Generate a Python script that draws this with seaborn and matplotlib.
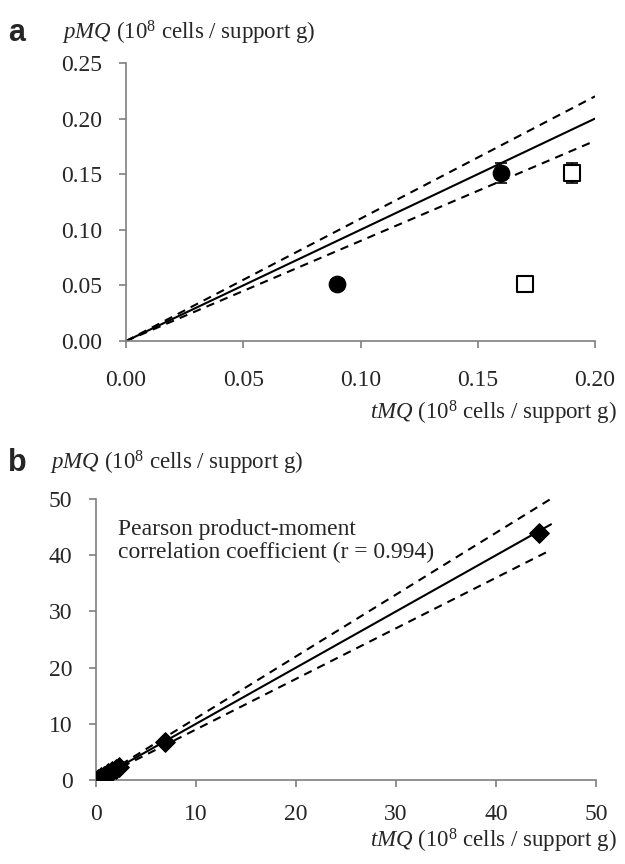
import numpy as np
import pandas as pd
import matplotlib
matplotlib.use("Agg")
import matplotlib.pyplot as plt
import seaborn as sns

sns.set_style("white")
plt.rcParams['font.family'] = ['Liberation Serif', 'DejaVu Serif']
plt.rcParams['mathtext.fontset'] = 'custom'
plt.rcParams['mathtext.rm'] = 'Liberation Serif'
plt.rcParams['mathtext.it'] = 'Liberation Serif:italic'

# panel a data
a_circle_x = [0.09, 0.16]
a_circle_y = [0.051, 0.151]
a_circle_err = [0.0, 0.009]
a_square_x = [0.17, 0.19]
a_square_y = [0.051, 0.151]
a_square_err = [0.0, 0.009]
a_line_x = [0.0, 0.20]
a_ticks_x = [0.00, 0.05, 0.10, 0.15, 0.20]
a_ticks_y = [0.00, 0.05, 0.10, 0.15, 0.20, 0.25]

# panel b data
b_x = [0.2, 0.5, 0.8, 1.2, 1.6, 2.0, 2.3, 6.9, 44.3]
b_y = [0.2, 0.5, 0.8, 1.2, 1.6, 2.0, 2.3, 6.8, 44.0]
b_line_x = [0.0, 45.5]
b_ticks = [0, 10, 20, 30, 40, 50]

# regression line (slope 1) and +/-10% bounds
slope_mid, slope_hi, slope_lo = 1.0, 1.1, 0.9

fig = plt.figure(figsize=(6.25, 8.64), dpi=100)
ax_a = fig.add_axes([0.2016, 0.6053, 0.7504, 0.3218])
ax_b = fig.add_axes([0.1536, 0.0972, 0.8000, 0.3252])

spine_col = '#7f7f7f'
ylab = r'$\mathit{pMQ}$ (10$^{8}$ cells / support g)'
xlab = r'$\mathit{tMQ}$ (10$^{8}$ cells / support g)'


def style_axes(ax, xpad):
    for s in ['top', 'right']:
        ax.spines[s].set_visible(False)
    for s in ['left', 'bottom']:
        ax.spines[s].set_color(spine_col)
        ax.spines[s].set_linewidth(1.2)
    ax.tick_params(direction='out', length=5, width=1.2, color=spine_col,
                   labelsize=17, left=True, bottom=True)
    ax.tick_params(axis='y', pad=12)
    ax.tick_params(axis='x', pad=xpad)


def draw_lines(ax, xs):
    xs = np.array(xs)
    df = pd.DataFrame({'x': xs, 'mid': xs * slope_mid, 'hi': xs * slope_hi, 'lo': xs * slope_lo})
    sns.lineplot(data=df, x='x', y='mid', ax=ax, color='black', lw=1.5)
    sns.lineplot(data=df, x='x', y='hi', ax=ax, color='black', lw=1.5, linestyle=(0, (4, 3)))
    sns.lineplot(data=df, x='x', y='lo', ax=ax, color='black', lw=1.5, linestyle=(0, (4, 3)))


# ---- panel a
draw_lines(ax_a, a_line_x)
ax_a.errorbar(a_circle_x, a_circle_y, yerr=a_circle_err, fmt='none', ecolor='black',
              elinewidth=1.2, capsize=4, capthick=1.2, zorder=3)
ax_a.errorbar(a_square_x, a_square_y, yerr=a_square_err, fmt='none', ecolor='black',
              elinewidth=1.2, capsize=4, capthick=1.2, zorder=3)
sns.scatterplot(x=a_circle_x, y=a_circle_y, ax=ax_a, marker='o', s=140,
                color='black', edgecolor='black', zorder=4)
sns.scatterplot(x=a_square_x, y=a_square_y, ax=ax_a, marker='s', s=130,
                facecolor='white', edgecolor='black', linewidth=1.5, zorder=4)
ax_a.set_xlim(0, 0.20)
ax_a.set_ylim(0, 0.25)
ax_a.set_xticks(a_ticks_x)
ax_a.set_yticks(a_ticks_y)
ax_a.set_xticklabels([f'{t:.2f}' for t in a_ticks_x])
ax_a.set_yticklabels([f'{t:.2f}' for t in a_ticks_y])
ax_a.set_xlabel('')
ax_a.set_ylabel('')
style_axes(ax_a, 16)

# ---- panel b
draw_lines(ax_b, b_line_x)
sns.scatterplot(x=b_x, y=b_y, ax=ax_b, marker='D', s=100, color='black',
                edgecolor='black', zorder=4)
ax_b.set_xlim(0, 50)
ax_b.set_ylim(0, 50)
ax_b.set_xticks(b_ticks)
ax_b.set_yticks(b_ticks)
ax_b.set_xlabel('')
ax_b.set_ylabel('')
style_axes(ax_b, 12)
ax_b.text(0.044, 0.93, 'Pearson product-moment\ncorrelation coefficient (r = 0.994)',
          transform=ax_b.transAxes, fontsize=17, va='top', ha='left', linespacing=1.15)

# axis titles and panel letters
fig.text(0.099, 0.962, ylab, fontsize=16.5, va='center', ha='left')
fig.text(0.987, 0.522, xlab, fontsize=16.5, va='center', ha='right')
fig.text(0.080, 0.464, ylab, fontsize=16.5, va='center', ha='left')
fig.text(0.987, 0.0266, xlab, fontsize=16.5, va='center', ha='right')
fig.text(0.013, 0.962, 'a', fontsize=22, fontweight='bold', va='center',
         family=['Liberation Sans', 'DejaVu Sans'])
fig.text(0.013, 0.464, 'b', fontsize=22, fontweight='bold', va='center',
         family=['Liberation Sans', 'DejaVu Sans'])

fig.savefig('out.png', dpi=100)
